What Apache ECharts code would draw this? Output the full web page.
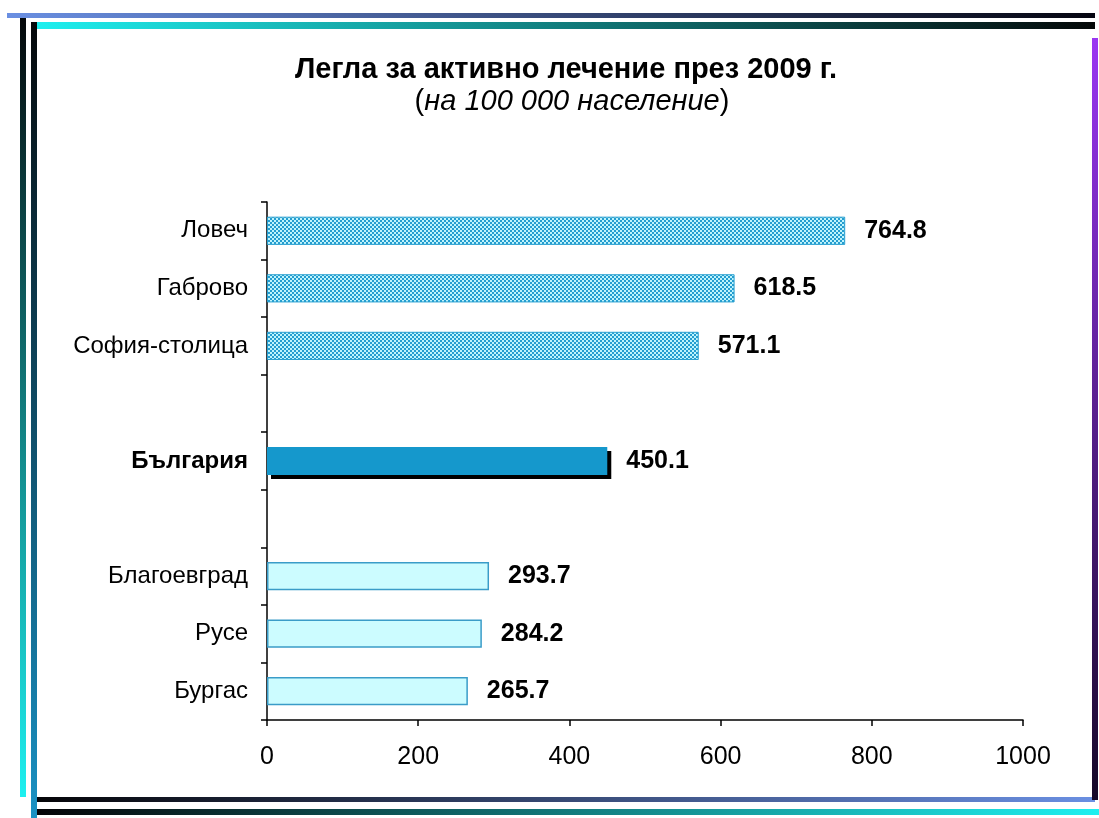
<!DOCTYPE html>
<html><head><meta charset="utf-8">
<script src="https://cdn.jsdelivr.net/npm/echarts@6/dist/echarts.min.js"></script>
<style>html,body{margin:0;padding:0;background:#fff}#c{width:1099px;height:818px}</style>
</head><body><div id="c"></div>
<script>
var categories = ['Ловеч', 'Габрово', 'София-столица', ' ', 'България', '  ', 'Благоевград', 'Русе', 'Бургас'];
var values = [764.8, 618.5, 571.1, null, 450.1, null, 293.7, 284.2, 265.7];
var groups = ['high', 'high', 'high', 'none', 'national', 'none', 'low', 'low', 'low'];
var xTicks = [0, 200, 400, 600, 800, 1000];

// checker pattern
var pc = document.createElement('canvas');
pc.width = 4; pc.height = 4;
var pctx = pc.getContext('2d');
pctx.fillStyle = '#bff4fc'; pctx.fillRect(0, 0, 4, 4);
pctx.fillStyle = '#259dd0'; pctx.fillRect(0, 0, 2, 2); pctx.fillRect(2, 2, 2, 2);

var styles = {
  high: {color: {image: pc, repeat: 'repeat'}, borderColor: '#2aa0d0', borderWidth: 1},
  national: {color: '#1598cc', borderWidth: 0, shadowColor: '#000', shadowOffsetX: 4, shadowOffsetY: 4, shadowBlur: 0},
  low: {color: '#ccfcff', borderColor: '#3a9cc8', borderWidth: 1.5}
};

var seriesData = values.map(function (v, i) {
  return {value: v, itemStyle: styles[groups[i]] || {}};
});

function lg(x1, y1, x2, y2, c1, c2) {
  return {type: 'linear', x: x1, y: y1, x2: x2, y2: y2, colorStops: [{offset: 0, color: c1}, {offset: 1, color: c2}]};
}

var chart = echarts.init(document.getElementById('c'), null, {renderer: 'canvas'});
chart.setOption({
  animation: false,
  backgroundColor: '#fff',
  title: [{
    text: 'Легла за активно лечение през 2009 г.',
    left: 561, top: 50, textAlign: 'center',
    textStyle: {fontFamily: 'Liberation Sans', fontWeight: 'bold', fontSize: 29, color: '#000'}
  }, {
    text: '{n|(}{i|на 100 000 население}{n|)}',
    left: 567, top: 82, textAlign: 'center',
    textStyle: {
      fontFamily: 'Liberation Sans', fontSize: 29, fontWeight: 'normal', color: '#000',
      rich: {
        n: {fontFamily: 'Liberation Sans', fontSize: 29, color: '#000'},
        i: {fontFamily: 'Liberation Sans', fontSize: 29, fontStyle: 'italic', color: '#000'}
      }
    }
  }],
  grid: {left: 267, right: 76, top: 202, bottom: 98, containLabel: false},
  xAxis: {
    type: 'value', min: 0, max: 1000, interval: 200,
    axisLine: {show: true, lineStyle: {color: '#000', width: 1.5}},
    axisTick: {show: true, length: 6, lineStyle: {color: '#000', width: 1.5}},
    axisLabel: {fontFamily: 'Liberation Sans', fontSize: 25, color: '#000', margin: 25,
      formatter: function (v) { return String(v); }},
    splitLine: {show: false}
  },
  yAxis: {
    type: 'category', data: categories, inverse: true,
    axisLine: {show: true, lineStyle: {color: '#000', width: 1.5}},
    axisTick: {show: true, length: 6, lineStyle: {color: '#000', width: 1.5}},
    axisLabel: {
      fontFamily: 'Liberation Sans', fontSize: 24, color: '#000', margin: 19,
      formatter: function (v) { return v === 'България' ? '{b|' + v + '}' : v; },
      rich: {b: {fontFamily: 'Liberation Sans', fontSize: 24, fontWeight: 'bold', color: '#000'}}
    }
  },
  series: [{
    type: 'bar', data: seriesData, barCategoryGap: '51%',
    label: {
      show: true, position: 'right', distance: 19,
      fontFamily: 'Liberation Sans', fontSize: 25, fontWeight: 'bold', color: '#000',
      formatter: function (p) { return p.value == null ? '' : p.value.toFixed(1); }
    }
  }],
  graphic: [
    {type: 'rect', shape: {x: 7, y: 13, width: 1088, height: 5}, style: {fill: lg(0, 0, 1, 0, '#6a8fe2', '#050510')}},
    {type: 'rect', shape: {x: 33, y: 22, width: 1062, height: 7}, style: {fill: lg(0, 0, 1, 0, '#1ef0f0', '#040808')}},
    {type: 'rect', shape: {x: 20, y: 18, width: 6, height: 779}, style: {fill: lg(0, 0, 0, 1, '#05080a', '#1ef0f0')}},
    {type: 'rect', shape: {x: 31, y: 22, width: 6, height: 796}, style: {fill: lg(0, 0, 0, 1, '#05080a', '#1a92c4')}},
    {type: 'rect', shape: {x: 37, y: 797, width: 1058, height: 5}, style: {fill: lg(0, 0, 1, 0, '#050508', '#6a8fe2')}},
    {type: 'rect', shape: {x: 37, y: 809, width: 1062, height: 6}, style: {fill: lg(0, 0, 1, 0, '#050508', '#1ef0f0')}},
    {type: 'rect', shape: {x: 1092, y: 38, width: 6, height: 762}, style: {fill: lg(0, 0, 0, 1, '#9a36f2', '#150828')}}
  ]
});
</script>
</body></html>
